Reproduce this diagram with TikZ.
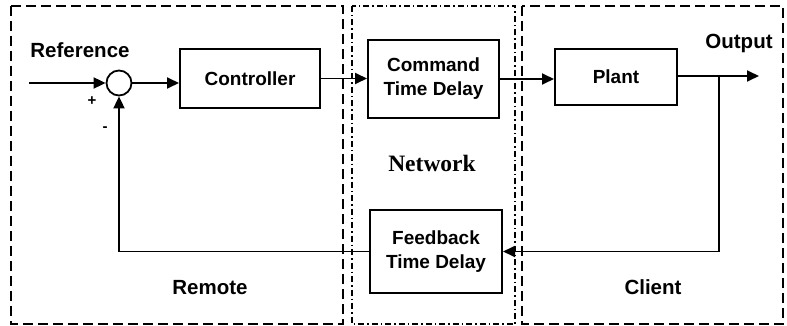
\documentclass[tikz,border=0pt]{standalone}
\usepackage{fontspec}
\setmainfont{Liberation Sans}
\newfontfamily\serifbold{Liberation Serif}
\usetikzlibrary{arrows.meta,positioning}
\begin{document}
\begin{tikzpicture}[x=1pt,y=-1pt,
  blockbox/.style={draw,line width=2pt,minimum width=#1,align=center,
    font=\fontsize{19}{24}\selectfont\bfseries,inner sep=0pt},
  zone/.style={line width=2.3pt,dash pattern=on 10pt off 5pt},
  netzone/.style={line width=1.5pt,dash pattern=on 6pt off 3pt on 1.5pt off 3pt},
  wire/.style={line width=1.8pt},
  arrowwire/.style={wire,-{Triangle[length=12pt,width=11pt]}},
  lbl/.style={font=\fontsize{20.5}{24}\selectfont\bfseries,inner sep=0pt},
  sign/.style={font=\fontsize{15}{16}\selectfont\bfseries,inner sep=0pt}]
\useasboundingbox (0,0) rectangle (787,326);

% regions
\draw[zone] (11,6) rectangle (343,324);
\draw[netzone] (352,6) rectangle (515,324);
\draw[zone] (522,6) rectangle (783,324);

% blocks
\node[draw,circle,line width=1.8pt,minimum size=25pt,inner sep=0pt] (sum) at (119,83) {};
\node[blockbox=140pt,minimum height=59pt] (ctrl) at (250,78.5) {Controller};
\node[blockbox=131pt,minimum height=78pt] (cmd) at (433.5,79) {Command\\Time Delay};
\node[blockbox=122pt,minimum height=56pt] (plant) at (616,77) {Plant};
\node[blockbox=132pt,minimum height=83pt] (fb) at (436,251.5) {Feedback\\Time Delay};

% labels
\node[lbl] (ref) at (80,50) {Reference};
\node[lbl] (out) at (739,43) {Output};
\node[lbl] (remote) at (210,288) {Remote};
\node[lbl] (client) at (653,287) {Client};
\node[inner sep=0pt,font=\fontsize{23.5}{26}\selectfont\serifbold\bfseries] (net) at (432,163) {Network};
\node[sign] (plus) at (92,101) {+};
\node[sign] (minus) at (105,129) {-};

% signal paths
\coordinate (in) at (29,83);
\coordinate (br) at (719,76);
\coordinate (tip) at (759,76);
\draw[arrowwire] (in) -- (sum.west);
\draw[arrowwire] (sum.east) -- (sum.east -| ctrl.west);
\draw[arrowwire] (ctrl.east) -- (ctrl.east -| cmd.west);
\draw[arrowwire] (cmd.east) -- (cmd.east -| plant.west);
\draw[arrowwire] (br -| plant.east) -- (tip);
\draw[arrowwire] (br) |- (fb.east);
\draw[arrowwire] (fb.west) -| (sum.south);
\end{tikzpicture}
\end{document}
